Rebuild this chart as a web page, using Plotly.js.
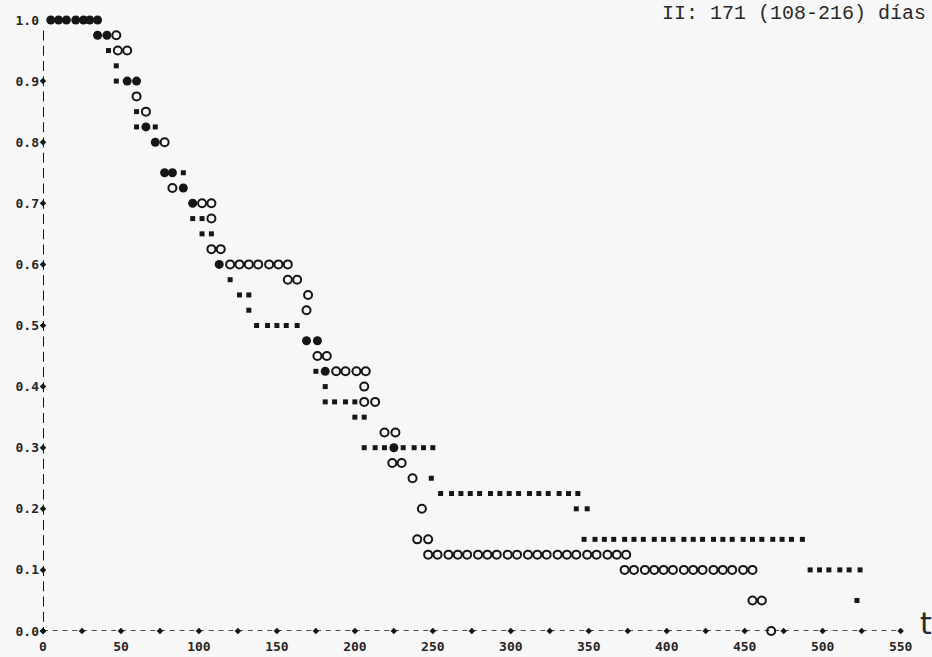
<!DOCTYPE html>
<html>
<head>
<meta charset="utf-8">
<script src="https://cdn.plot.ly/plotly-3.0.1.min.js"></script>
<style>
  html, body { margin: 0; padding: 0; background: #f7f7f7; }
  #chart { width: 932px; height: 657px; }
</style>
</head>
<body>
<div id="chart"></div>
<script>
// ---- Data ----
// "o" symbols (group 1)
const openX = [47, 48, 54, 60, 66, 78, 83, 102, 108, 108, 108, 114,
  120, 126, 132, 138, 145, 151, 157, 157, 163, 170, 169, 176, 182,
  188, 194, 201, 207, 206, 206, 213, 219, 226, 224, 230, 237, 243, 240, 247,
  247, 253, 260, 266, 272, 279, 285, 291, 298, 304, 311, 317, 323, 330, 336, 342, 349, 355, 362, 368, 374,
  373, 379, 386, 392, 398, 404, 411, 417, 423, 430, 436, 442, 449, 455,
  455, 461, 467];
const openY = [0.975, 0.95, 0.95, 0.875, 0.85, 0.8, 0.725, 0.7, 0.7, 0.675, 0.625, 0.625,
  0.6, 0.6, 0.6, 0.6, 0.6, 0.6, 0.6, 0.575, 0.575, 0.55, 0.525, 0.45, 0.45,
  0.425, 0.425, 0.425, 0.425, 0.4, 0.375, 0.375, 0.325, 0.325, 0.275, 0.275, 0.25, 0.2, 0.15, 0.15,
  0.125, 0.125, 0.125, 0.125, 0.125, 0.125, 0.125, 0.125, 0.125, 0.125, 0.125, 0.125, 0.125, 0.125, 0.125, 0.125, 0.125, 0.125, 0.125, 0.125, 0.125,
  0.1, 0.1, 0.1, 0.1, 0.1, 0.1, 0.1, 0.1, 0.1, 0.1, 0.1, 0.1, 0.1, 0.1,
  0.05, 0.05, 0.0];

// "*" symbols (group 2)
const starX = [42, 47, 47, 60, 60, 72, 90, 96, 102, 102, 108, 120, 126, 132, 132,
  137, 144, 150, 156, 163, 175, 181, 181, 187, 194, 200, 200, 206,
  206, 213, 219, 231, 238, 244, 250, 249,
  255, 262, 268, 274, 280, 287, 293, 299, 305, 312, 318, 324, 331, 337, 343,
  342, 349,
  347, 354, 360, 366, 373, 379, 385, 392, 398, 404, 411, 417, 423, 430, 436, 442, 449, 455, 461, 468, 474, 480, 487,
  492, 498, 504, 511, 517, 524, 522];
const starY = [0.95, 0.925, 0.9, 0.85, 0.825, 0.825, 0.75, 0.675, 0.675, 0.65, 0.65, 0.575, 0.55, 0.55, 0.525,
  0.5, 0.5, 0.5, 0.5, 0.5, 0.425, 0.4, 0.375, 0.375, 0.375, 0.375, 0.35, 0.35,
  0.3, 0.3, 0.3, 0.3, 0.3, 0.3, 0.3, 0.25,
  0.225, 0.225, 0.225, 0.225, 0.225, 0.225, 0.225, 0.225, 0.225, 0.225, 0.225, 0.225, 0.225, 0.225, 0.225,
  0.2, 0.2,
  0.15, 0.15, 0.15, 0.15, 0.15, 0.15, 0.15, 0.15, 0.15, 0.15, 0.15, 0.15, 0.15, 0.15, 0.15, 0.15, 0.15, 0.15, 0.15, 0.15, 0.15, 0.15, 0.15,
  0.1, 0.1, 0.1, 0.1, 0.1, 0.1, 0.05];

// overstruck positions (both groups coincide)
const bothX = [5, 10, 15, 21, 26, 30, 35, 35, 41, 54, 60, 66, 72, 78, 83, 90, 96, 113, 169, 176, 181, 225];
const bothY = [1, 1, 1, 1, 1, 1, 1, 0.975, 0.975, 0.9, 0.9, 0.825, 0.8, 0.75, 0.75, 0.725, 0.7, 0.6, 0.475, 0.475, 0.425, 0.3];

// axes
const xTickVals = [0, 50, 100, 150, 200, 250, 300, 350, 400, 450, 500, 550];
const xPlusMarks = [0, 25, 50, 75, 100, 125, 150, 175, 200, 225, 250, 275, 300, 325, 350, 375, 400, 425, 450, 475, 500, 525, 550];
const yTickVals = [0, 0.1, 0.2, 0.3, 0.4, 0.5, 0.6, 0.7, 0.8, 0.9, 1.0];
const yTickText = ['0.0', '0.1', '0.2', '0.3', '0.4', '0.5', '0.6', '0.7', '0.8', '0.9', '1.0'];
const titleText = 'II: 171 (108-216) días';
const xLabel = 't';

const ink = '#161616';
const tickFont = {family: 'DejaVu Sans Mono', size: 13, weight: 'bold', color: '#262626'};

const traces = [
  { // "+" marks on the x axis
    x: xPlusMarks, y: xPlusMarks.map(() => 0), type: 'scatter', mode: 'markers',
    marker: {symbol: 'diamond', size: 5, color: ink}, cliponaxis: false, hoverinfo: 'skip'
  },
  { // "+" marks on the y axis
    x: yTickVals.slice(0, 10).map(() => 0), y: yTickVals.slice(0, 10), type: 'scatter', mode: 'markers',
    marker: {symbol: 'diamond', size: 5, color: ink}, cliponaxis: false, hoverinfo: 'skip'
  },
  {
    x: starX, y: starY, type: 'scatter', mode: 'markers', name: '*',
    marker: {symbol: 'square', size: 5, color: ink}, cliponaxis: false
  },
  {
    x: openX, y: openY, type: 'scatter', mode: 'markers', name: 'o',
    marker: {symbol: 'circle-open', size: 8, color: ink, line: {width: 2, color: ink}}, cliponaxis: false
  },
  {
    x: bothX, y: bothY, type: 'scatter', mode: 'markers', name: 'both',
    marker: {symbol: 'circle', size: 9, color: ink}, cliponaxis: false
  }
];

const layout = {
  width: 932, height: 657,
  margin: {l: 43, r: 8, t: 20, b: 26, pad: 0},
  paper_bgcolor: '#f7f7f7', plot_bgcolor: '#f7f7f7',
  showlegend: false,
  xaxis: {
    range: [0, 565], showgrid: false, zeroline: false, showline: false,
    tickmode: 'array', tickvals: xTickVals, ticks: '', tickfont: tickFont,
    ticklabelstandoff: 6, fixedrange: true
  },
  yaxis: {
    range: [0, 1], showgrid: false, zeroline: false, showline: false,
    tickmode: 'array', tickvals: yTickVals, ticktext: yTickText, ticks: '', tickfont: tickFont,
    ticklabelstandoff: 3, fixedrange: true
  },
  shapes: [
    {type: 'line', xref: 'x', yref: 'y', x0: 0, x1: 550, y0: 0, y1: 0,
     line: {color: ink, width: 1.5, dash: '5px,4.75px'}},
    {type: 'line', xref: 'x', yref: 'y', x0: 0, x1: 0, y0: 0.983, y1: 0,
     line: {color: ink, width: 2, dash: '10px,5.3px'}}
  ],
  annotations: [
    {xref: 'paper', yref: 'paper', x: 1.005, y: 1.01, xanchor: 'right', yanchor: 'middle',
     text: titleText, showarrow: false,
     font: {family: 'Liberation Mono', size: 20, color: '#2a2a2a'}},
    {xref: 'paper', yref: 'paper', x: 1.002, y: 0.012, xanchor: 'center', yanchor: 'middle',
     text: xLabel, showarrow: false,
     font: {family: 'DejaVu Sans', size: 30, color: '#2a2a2a'}}
  ]
};

Plotly.newPlot('chart', traces, layout, {displayModeBar: false, staticPlot: true});
</script>
</body>
</html>
